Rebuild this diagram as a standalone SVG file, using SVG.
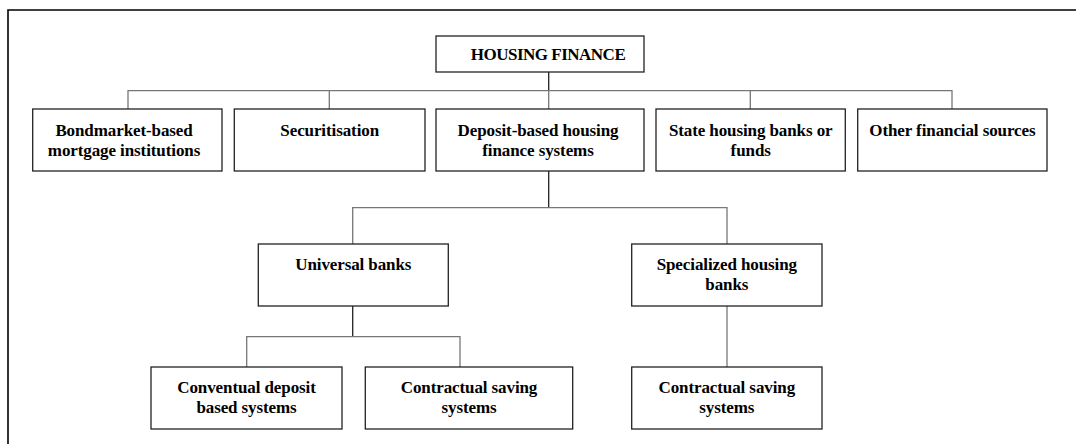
<svg xmlns="http://www.w3.org/2000/svg" width="1076" height="444" viewBox="0 0 1076 444">
<style>
.box{fill:#fff;stroke:#222;stroke-width:1.3}
.t{font-family:"Liberation Serif","Times New Roman",serif;font-weight:bold;font-size:17px;fill:#000;text-anchor:middle;letter-spacing:-0.1px}
.hf{letter-spacing:-0.5px}
.c{fill:none;stroke:#777;stroke-width:1.3}
.cd{fill:none;stroke:#222;stroke-width:1.3}
.frame{fill:none;stroke:#000;stroke-width:1.6}
</style>
<rect width="1076" height="444" fill="#fff"/>
<path class="frame" d="M8,444 V10 H1076"/>
<g id="connectors">
<path class="cd" d="M548.7,72 V90.7"/>
<path class="c" d="M128,109 V90.7 H952 V109 M329.3,90.7 V109 M548.7,90.7 V109 M750.3,90.7 V109"/>
<path class="cd" d="M548.7,171 V207.7"/>
<path class="c" d="M352.7,244 V207.7 H727 V244"/>
<path class="cd" d="M352.7,306 V336.7"/>
<path class="c" d="M246.7,367 V336.7 H460 V367"/>
<path class="c" d="M727,306 V367"/>
</g>
<g id="housing-finance"><rect class="box" x="436" y="36" width="208" height="36"/><text class="t hf" x="548" y="59.5">HOUSING FINANCE</text></g>
<g id="bondmarket"><rect class="box" x="32.7" y="109" width="189.3" height="62"/><text class="t" x="124" y="136">Bondmarket-based</text><text class="t" x="124" y="156">mortgage institutions</text></g>
<g id="securitisation"><rect class="box" x="234.3" y="109" width="190.7" height="62"/><text class="t" x="329.7" y="136">Securitisation</text></g>
<g id="deposit-based"><rect class="box" x="436" y="109" width="208" height="62"/><text class="t" x="538" y="136">Deposit-based housing</text><text class="t" x="538" y="156">finance systems</text></g>
<g id="state-housing"><rect class="box" x="656" y="109" width="189.3" height="62"/><text class="t" x="750.7" y="136">State housing banks or</text><text class="t" x="750.7" y="156">funds</text></g>
<g id="other-sources"><rect class="box" x="857.7" y="109" width="189.3" height="62"/><text class="t" x="952.4" y="136">Other financial sources</text></g>
<g id="universal-banks"><rect class="box" x="258.3" y="244" width="190" height="62"/><text class="t" x="353.3" y="270">Universal banks</text></g>
<g id="specialized-banks"><rect class="box" x="631.7" y="244" width="190.3" height="62"/><text class="t" x="726.8" y="270">Specialized housing</text><text class="t" x="726.8" y="290">banks</text></g>
<g id="conventual-deposit"><rect class="box" x="151" y="367" width="191" height="62"/><text class="t" x="246.5" y="393">Conventual deposit</text><text class="t" x="246.5" y="413">based systems</text></g>
<g id="contractual-1"><rect class="box" x="365.3" y="367" width="207.4" height="62"/><text class="t" x="469" y="393">Contractual saving</text><text class="t" x="469" y="413">systems</text></g>
<g id="contractual-2"><rect class="box" x="631.7" y="367" width="190.3" height="62"/><text class="t" x="726.8" y="393">Contractual saving</text><text class="t" x="726.8" y="413">systems</text></g>
</svg>
